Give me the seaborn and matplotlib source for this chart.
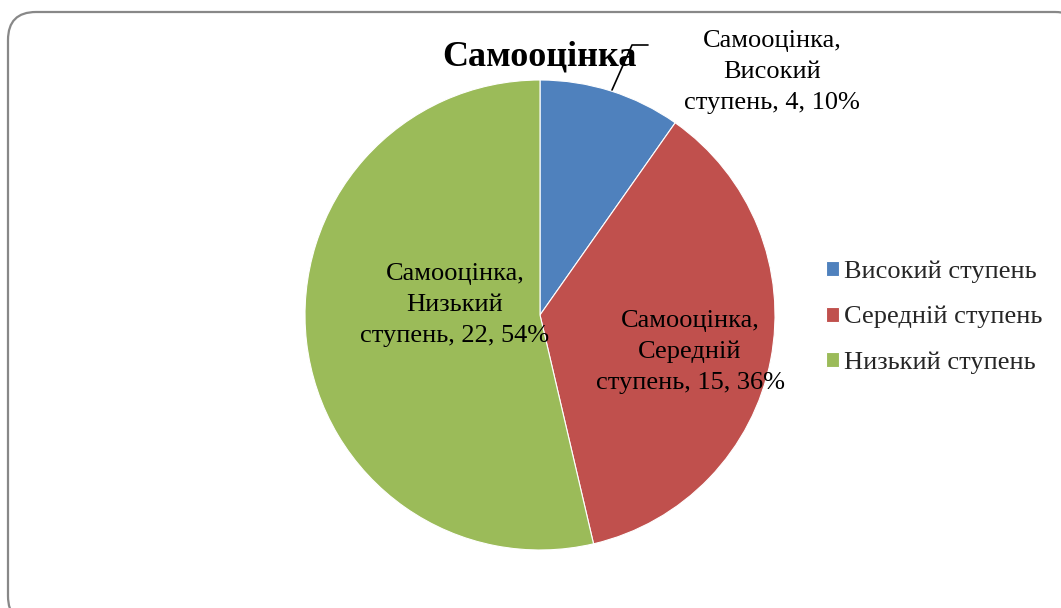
import matplotlib

matplotlib.use("Agg")
import matplotlib.pyplot as plt
import seaborn as sns
from matplotlib.patches import FancyBboxPatch

# data
categories = ["Високий ступень", "Середній ступень", "Низький ступень"]
counts = [4, 15, 22]
percent_labels = ["10%", "36%", "54%"]
series_name = "Самооцінка"
level_short = ["Високий", "Середній", "Низький"]

W, H = 1061, 608
colors = ["#4F81BD", "#C0504D", "#9BBB59"]

sns.set_theme(style="white")
plt.rcParams["font.family"] = ["Liberation Serif", "DejaVu Serif"]

fig = plt.figure(figsize=(W / 100, H / 100), dpi=100)

# background layer in pixel coordinates: rounded frame
bg = fig.add_axes([0, 0, 1, 1], zorder=0)
bg.set_xlim(0, W)
bg.set_ylim(H, 0)
bg.axis("off")
frame = FancyBboxPatch((8, 12), 1075, 612, boxstyle="round,pad=0,rounding_size=28",
                       fc="white", ec="#888888", lw=1.6)
bg.add_patch(frame)

# pie axes: centre (540, 315), radius 235 px
cx, cy, r = 540, 315, 235
ax = fig.add_axes([(cx - r) / W, (H - cy - r) / H, 2 * r / W, 2 * r / H], zorder=1)
wedges, _ = ax.pie(counts, colors=colors, startangle=90, counterclock=False,
                   radius=1.0, wedgeprops=dict(linewidth=0.8, edgecolor="white"))
ax.set_xlim(-1, 1)
ax.set_ylim(-1, 1)
ax.axis("off")

# overlay layer for title, labels and leader line
top = fig.add_axes([0, 0, 1, 1], zorder=2)
top.set_xlim(0, W)
top.set_ylim(H, 0)
top.axis("off")
top.patch.set_alpha(0)

top.text(540, 57, series_name, ha="center", va="center", fontsize=26,
         fontweight="bold", color="black")

label_pos = [(772, 72), (690, 352), (455, 305)]
for lvl, n, pct, (x, y) in zip(level_short, counts, percent_labels, label_pos):
    top.text(x, y, f"{series_name},\n{lvl}\nступень, {n}, {pct}", ha="center",
             va="center", fontsize=19, linespacing=1.52, color="black")

# leader line for the outside label
top.plot([612, 632, 648], [90, 45, 45], color="black", lw=1.2)

# legend
leg = fig.legend(wedges, categories, loc="upper left",
                 bbox_to_anchor=(802 / W, 1 - 237 / H), frameon=False,
                 fontsize=19, handlelength=0.5, handleheight=0.5,
                 handletextpad=0.2, labelspacing=0.86)

fig.savefig("out.png", dpi=100)
